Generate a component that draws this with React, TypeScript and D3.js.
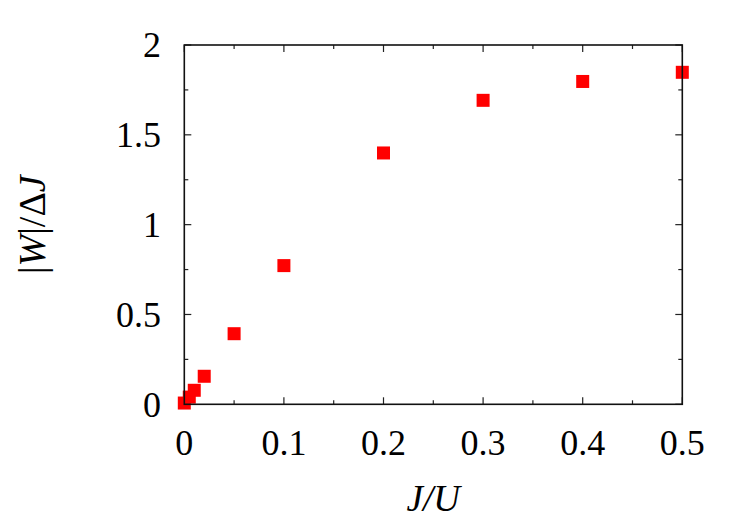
import React, { useEffect, useRef } from "react";
import * as d3 from "d3";

const xValues = [0, 0.005, 0.01, 0.02, 0.05, 0.1, 0.2, 0.3, 0.4, 0.5];
const yValues = [0.007, 0.04, 0.078, 0.156, 0.393, 0.772, 1.399, 1.692, 1.797, 1.848];
const xTicks = [0, 0.1, 0.2, 0.3, 0.4, 0.5];
const xTickLabels = ["0", "0.1", "0.2", "0.3", "0.4", "0.5"];
const yTicks = [0, 0.5, 1, 1.5, 2];
const yTickLabels = ["0", "0.5", "1", "1.5", "2"];
const xMinor = [0.05, 0.15, 0.25, 0.35, 0.45];
const yMinor = [0.25, 0.75, 1.25, 1.75];

const App = () => {
  const ref = useRef<SVGSVGElement>(null);

  useEffect(() => {
    const svg = d3.select(ref.current);
    svg.selectAll("*").remove();

    const left = 184.3, right = 682.3, top = 45, bottom = 404.3;
    const x = d3.scaleLinear().domain([0, 0.5]).range([left, right]);
    const y = d3.scaleLinear().domain([0, 2]).range([bottom, top]);
    const font = "'Liberation Serif', 'Times New Roman', serif";

    // ticks, pointing inward on all four sides
    const tickG = svg.append("g").attr("stroke", "#222").attr("stroke-width", 1.2);
    const addX = (v: number, len: number) => {
      tickG.append("line").attr("x1", x(v)).attr("x2", x(v)).attr("y1", bottom).attr("y2", bottom - len);
      tickG.append("line").attr("x1", x(v)).attr("x2", x(v)).attr("y1", top).attr("y2", top + len);
    };
    const addY = (v: number, len: number) => {
      tickG.append("line").attr("y1", y(v)).attr("y2", y(v)).attr("x1", left).attr("x2", left + len);
      tickG.append("line").attr("y1", y(v)).attr("y2", y(v)).attr("x1", right).attr("x2", right - len);
    };
    xTicks.forEach((v) => addX(v, 7));
    xMinor.forEach((v) => addX(v, 4));
    yTicks.forEach((v) => addY(v, 7));
    yMinor.forEach((v) => addY(v, 4));

    // data points
    svg.append("g")
      .selectAll("rect")
      .data(xValues.map((v, i) => [v, yValues[i]]))
      .enter().append("rect")
      .attr("x", (d) => x(d[0]) - 6.5)
      .attr("y", (d) => y(d[1]) - 6.5)
      .attr("width", 13)
      .attr("height", 13)
      .attr("fill", "#ff0000");

    // frame
    svg.append("rect")
      .attr("x", left).attr("y", top)
      .attr("width", right - left).attr("height", bottom - top)
      .attr("fill", "none").attr("stroke", "#111").attr("stroke-width", 1.6);

    // tick labels
    svg.append("g").selectAll("text").data(xTicks).enter().append("text")
      .attr("x", (d) => x(d)).attr("y", 455)
      .attr("text-anchor", "middle")
      .attr("font-family", font).attr("font-size", 36)
      .text((d, i) => xTickLabels[i]);

    svg.append("g").selectAll("text").data(yTicks).enter().append("text")
      .attr("x", 161).attr("y", (d) => y(d))
      .attr("dy", "0.34em")
      .attr("text-anchor", "end")
      .attr("font-family", font).attr("font-size", 36)
      .text((d, i) => yTickLabels[i]);

    // axis titles
    const xt = svg.append("text")
      .attr("x", (left + right) / 2).attr("y", 511)
      .attr("text-anchor", "middle")
      .attr("font-family", font).attr("font-size", 37)
      .attr("font-style", "italic");
    xt.text("J/U");

    const yt = svg.append("text")
      .attr("transform", `translate(45,${(top + bottom) / 2}) rotate(-90)`)
      .attr("text-anchor", "middle")
      .attr("font-family", font).attr("font-size", 38);
    yt.append("tspan").text("|");
    yt.append("tspan").attr("font-style", "italic").text("W");
    yt.append("tspan").text("|/Δ");
    yt.append("tspan").attr("font-style", "italic").text("J");
  }, []);

  return <svg ref={ref} width={750} height={525} style={{ position: "absolute", left: 0, top: 0 }} />;
};

export default App;
